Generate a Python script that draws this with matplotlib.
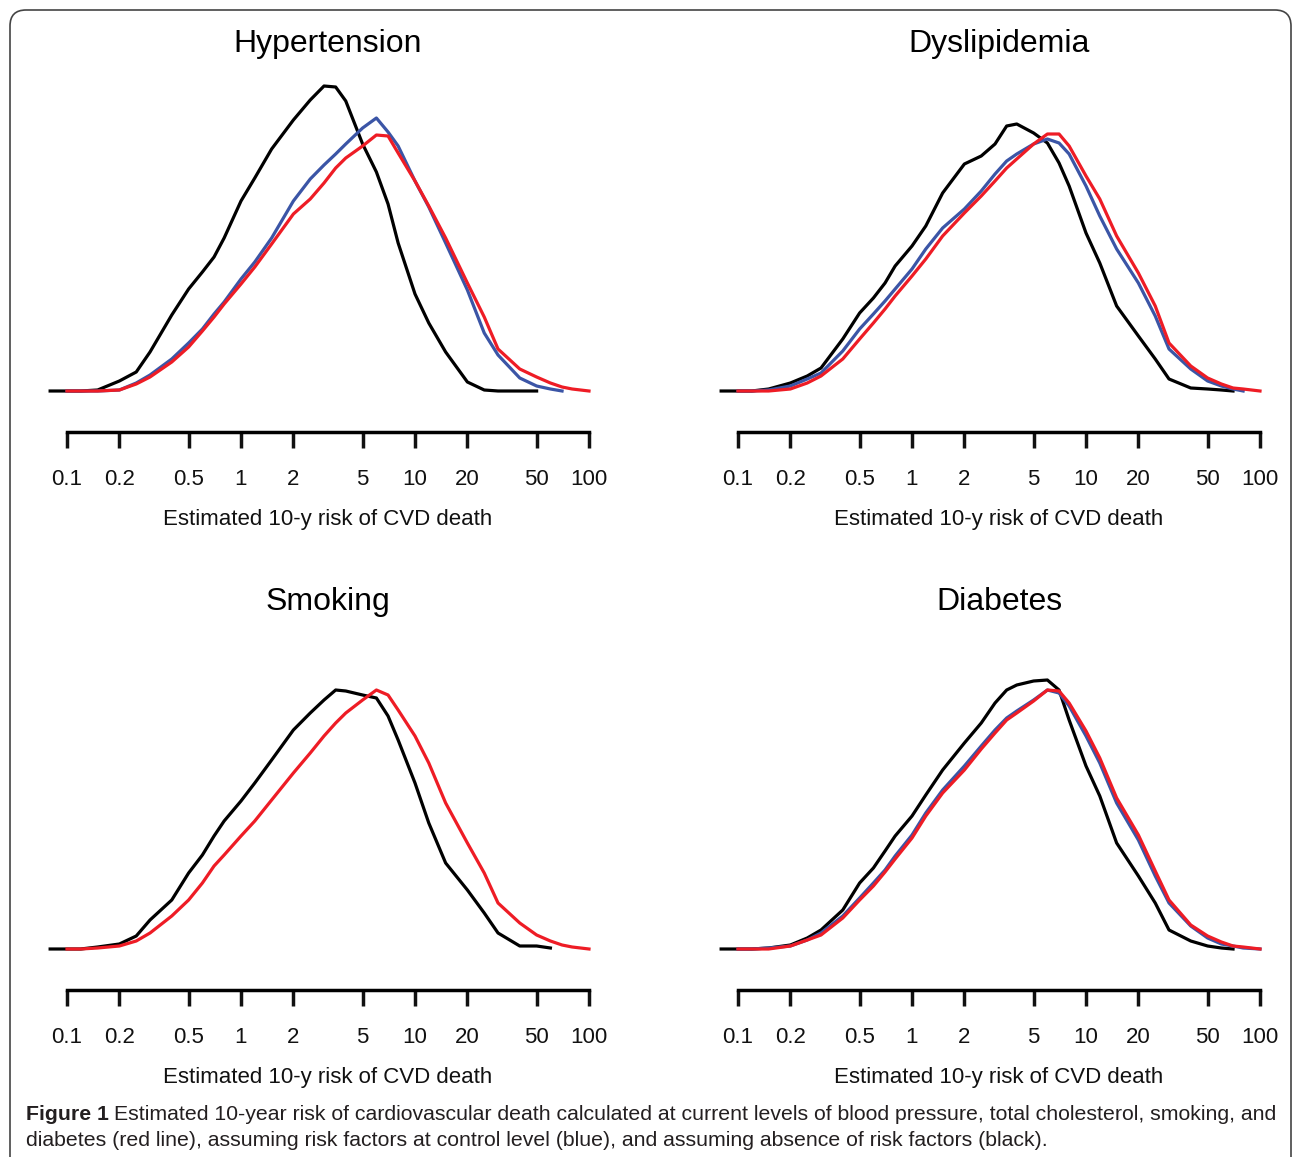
import numpy as np
import matplotlib
matplotlib.use('Agg')
import matplotlib.pyplot as plt
from matplotlib.patches import FancyBboxPatch
from matplotlib.transforms import IdentityTransform
from matplotlib.ticker import NullLocator

plt.rcParams['font.family'] = ['Liberation Sans', 'DejaVu Sans']

nan = np.nan

# shared grid of estimated 10-y risk (%) used for all curves
risk = [0.08, 0.1, 0.12, 0.15, 0.2, 0.25, 0.3, 0.4, 0.5, 0.6, 0.7, 0.8,
        1, 1.2, 1.5, 2, 2.5, 3, 3.5, 4, 5, 6, 7, 8,
        10, 12, 15, 20, 25, 30, 40, 50, 60, 70, 80, 100]

# density (arbitrary units)
hyp_black = [0, 0, 0, 1, 10, 19, 39, 76, 102, 119, 134, 153,
             190, 213, 242, 271, 291, 305, 304, 290, 247, 219, 187, 148,
             97, 68, 39, 9, 1, 0, 0, 0, nan, nan, nan, nan]
hyp_blue = [nan, 0, 0, 0, 1, 8, 16, 32, 48, 62, 77, 89,
            112, 129, 153, 190, 212, 226, 237, 247, 263, 273, 259, 245,
            210, 184, 148, 101, 58, 36, 13, 5, 2, 0, nan, nan]
hyp_red = [nan, 0, 0, 0, 1, 7, 14, 29, 44, 60, 74, 87,
           107, 124, 147, 177, 192, 208, 223, 233, 245, 256, 255, 238,
           210, 185, 153, 108, 74, 42, 22, 14, 8, 4, 2, 0]

dys_black = [0, 0, 0, 2, 8, 15, 23, 52, 78, 93, 108, 125,
             145, 165, 198, 227, 235, 247, 265, 267, 258, 248, 228, 205,
             158, 128, 85, 55, 32, 12, 3, 2, 1, 0, nan, nan]
dys_blue = [nan, 0, 0, 1, 5, 12, 18, 40, 62, 77, 90, 102,
            122, 142, 163, 182, 200, 217, 230, 237, 247, 252, 248, 237,
            205, 175, 142, 108, 75, 42, 22, 10, 5, 2, 0, nan]
dys_red = [nan, 0, 0, 0, 2, 8, 15, 32, 52, 68, 82, 95,
           115, 132, 155, 178, 195, 210, 223, 232, 247, 257, 257, 245,
           215, 192, 155, 118, 85, 48, 25, 13, 7, 3, 2, 0]

smk_black = [0, 0, 0, 2, 5, 13, 29, 49, 76, 94, 113, 128,
             148, 166, 189, 219, 236, 249, 259, 258, 254, 251, 233, 209,
             166, 126, 86, 59, 36, 16, 3, 3, 1, nan, nan, nan]
smk_red = [nan, 0, 0, 1, 3, 8, 16, 33, 49, 66, 83, 94,
           113, 128, 149, 176, 196, 213, 226, 236, 249, 259, 254, 239,
           213, 186, 146, 106, 76, 46, 26, 14, 8, 4, 2, 0]

dia_black = [0, 0, 0, 1, 4, 11, 19, 39, 66, 81, 98, 113,
             133, 154, 179, 206, 226, 246, 259, 264, 268, 269, 259, 229,
             183, 153, 106, 73, 46, 19, 8, 3, 1, 0, nan, nan]
dia_blue = [nan, 0, 0, 1, 3, 9, 16, 33, 51, 66, 79, 93,
            114, 136, 159, 183, 203, 219, 231, 238, 249, 259, 256, 243,
            213, 186, 146, 109, 73, 46, 23, 11, 5, 3, 1, 0]
dia_red = [nan, 0, 0, 0, 3, 9, 14, 31, 49, 63, 77, 90,
           111, 133, 156, 179, 200, 216, 229, 236, 248, 259, 258, 246,
           218, 191, 151, 114, 78, 49, 24, 13, 7, 3, 2, 0]

tick_vals = [0.1, 0.2, 0.5, 1, 2, 5, 10, 20, 50, 100]
tick_labels = ['0.1', '0.2', '0.5', '1', '2', '5', '10', '20', '50', '100']

BLACK = '#000000'
BLUE = '#3B55A6'
RED = '#EE1C25'

panels = [
    ('Hypertension', [(hyp_black, BLACK), (hyp_blue, BLUE), (hyp_red, RED)], 67, 391),
    ('Dyslipidemia', [(dys_black, BLACK), (dys_blue, BLUE), (dys_red, RED)], 738, 391),
    ('Smoking', [(smk_black, BLACK), (smk_red, RED)], 67, 949),
    ('Diabetes', [(dia_black, BLACK), (dia_blue, BLUE), (dia_red, RED)], 738, 949),
]

W, H = 1293, 1157
fig = plt.figure(figsize=(W / 100, H / 100), dpi=100)

for title, curves, x0, ybase in panels:
    ax = fig.add_axes([x0 / W, (H - ybase) / H, 522 / W, 321 / H])
    ax.set_xscale('log')
    ax.set_xlim(0.1, 100)
    ax.set_ylim(0, 321)
    for vals, col in curves:
        ax.plot(risk, vals, color=col, lw=2.3, clip_on=False, solid_joinstyle='round')
    for s in ['left', 'right', 'top']:
        ax.spines[s].set_visible(False)
    ax.spines['bottom'].set_position(('outward', 29.5))
    ax.spines['bottom'].set_linewidth(2.5)
    ax.set_yticks([])
    ax.set_xticks(tick_vals, tick_labels)
    ax.xaxis.set_minor_locator(NullLocator())
    ax.tick_params(axis='x', direction='out', length=11.5, width=2.5,
                   labelsize=16, pad=15, colors='#111111')
    ax.set_xlabel('Estimated 10-y risk of CVD death', fontsize=16, labelpad=14,
                  color='#111111')
    ax.patch.set_visible(False)
    fig.text((x0 + 261) / W, 1 - (ybase - 347) / H, title, fontsize=23,
             ha='center', va='center')

# caption
cap_col = '#231f20'
cap_size = 15.3
renderer = fig.canvas.get_renderer()
t = fig.text(26 / W, 1 - 1114 / H, 'Figure 1', fontsize=cap_size, weight='bold',
             va='center', color=cap_col)
bb = t.get_window_extent(renderer)
fig.text((bb.x1 + 5) / W, 1 - 1114 / H,
         'Estimated 10-year risk of cardiovascular death calculated at current levels of '
         'blood pressure, total cholesterol, smoking, and',
         fontsize=cap_size, va='center', color=cap_col)
fig.text(26 / W, 1 - 1141 / H,
         'diabetes (red line), assuming risk factors at control level (blue), and assuming '
         'absence of risk factors (black).',
         fontsize=cap_size, va='center', color=cap_col)

# rounded frame around the figure
frame = FancyBboxPatch((10, -40), 1281, H - 10 + 40,
                       boxstyle='round,pad=0,rounding_size=16',
                       transform=IdentityTransform(), fill=False,
                       edgecolor='#444444', lw=1.2)
fig.add_artist(frame)

fig.savefig('out.png', dpi=100)
